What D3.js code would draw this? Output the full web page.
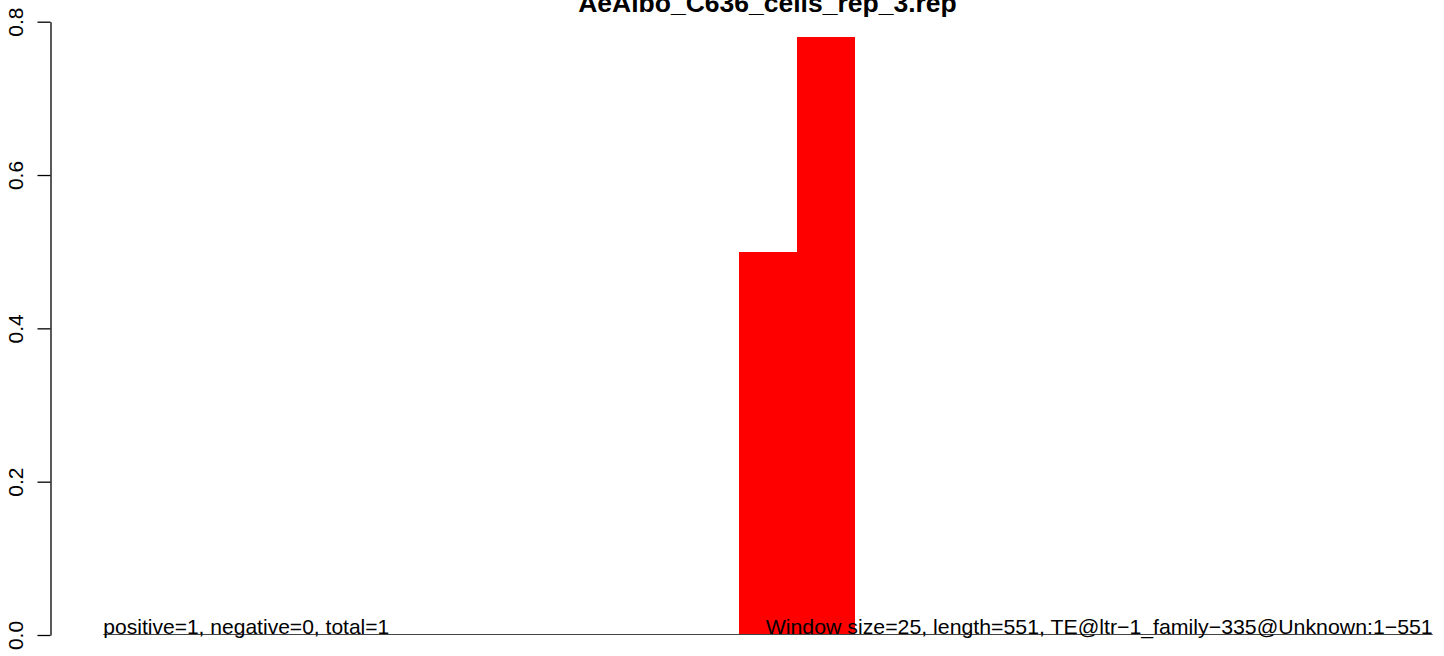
<!DOCTYPE html>
<html>
<head>
<meta charset="utf-8">
<script src="https://cdn.jsdelivr.net/npm/d3@7"></script>
<style>
  html, body { margin: 0; padding: 0; background: #fff; }
  svg { display: block; font-family: "Liberation Sans", Arial, Helvetica, sans-serif; }
</style>
</head>
<body>
<svg id="chart" width="1444" height="656"></svg>
<script>
// ---- data ----
const title = "AeAlbo_C636_cells_rep_3.rep";
const windowIndex = d3.range(0, 23); // 23 windows of 25 bp over length 551
const windowValues = [0,0,0,0,0,0,0,0,0,0,0,0.5,0.78,0,0,0,0,0,0,0,0,0,0];
const yTicks = [0.0, 0.2, 0.4, 0.6, 0.8];
const leftNote = "positive=1, negative=0, total=1";
const rightNote = "Window size=25, length=551, TE@ltr\u22121_family\u2212335@Unknown:1\u2212551";

// ---- layout ----
const svg = d3.select("#chart");
const x = d3.scaleLinear().domain([0, 23]).range([103.3, 1432.7]);
const y = d3.scaleLinear().domain([0, 0.8]).range([635, 21.7]);

// bars
svg.append("g").attr("shape-rendering", "crispEdges").selectAll("rect")
  .data(windowIndex.filter(i => windowValues[i] > 0))
  .join("rect")
  .attr("x", i => Math.round(x(i)))
  .attr("width", i => Math.round(x(i + 1)) - Math.round(x(i)))
  .attr("y", i => Math.round(y(windowValues[i])))
  .attr("height", i => Math.round(y(0)) - Math.round(y(windowValues[i])))
  .attr("fill", "#ff0000");

// baseline
svg.append("line")
  .attr("x1", x(0)).attr("x2", x(23))
  .attr("y1", y(0) - 0.5).attr("y2", y(0) - 0.5)
  .attr("stroke", "#444").attr("stroke-width", 1);

// y axis
const yAxis = d3.axisLeft(y)
  .tickValues(yTicks)
  .tickFormat(d3.format(".1f"))
  .tickSize(13)
  .tickSizeOuter(0)
  .tickPadding(0);
const ga = svg.append("g").attr("transform", "translate(50.5,0)").call(yAxis);
ga.select(".domain").attr("stroke", "#000").attr("stroke-width", 1.3);
ga.selectAll(".tick line").attr("stroke", "#000").attr("stroke-width", 1.3);
ga.selectAll(".tick text")
  .attr("font-size", 21)
  .attr("fill", "#000")
  .attr("text-anchor", "middle")
  .attr("dy", null)
  .attr("x", null)
  .attr("transform", "translate(-27.5,0) rotate(-90)");

// notes
svg.append("text")
  .attr("x", x(0)).attr("y", 634)
  .attr("font-size", 21).attr("text-anchor", "start")
  .attr("textLength", 286).attr("lengthAdjust", "spacingAndGlyphs")
  .text(leftNote);
svg.append("text")
  .attr("x", x(23)).attr("y", 634)
  .attr("font-size", 21).attr("text-anchor", "end")
  .attr("textLength", 667).attr("lengthAdjust", "spacingAndGlyphs")
  .text(rightNote);

// title
svg.append("text")
  .attr("x", 767.5).attr("y", 11.5)
  .attr("font-size", 26.5).attr("font-weight", "bold")
  .attr("text-anchor", "middle")
  .text(title);
</script>
</body>
</html>
